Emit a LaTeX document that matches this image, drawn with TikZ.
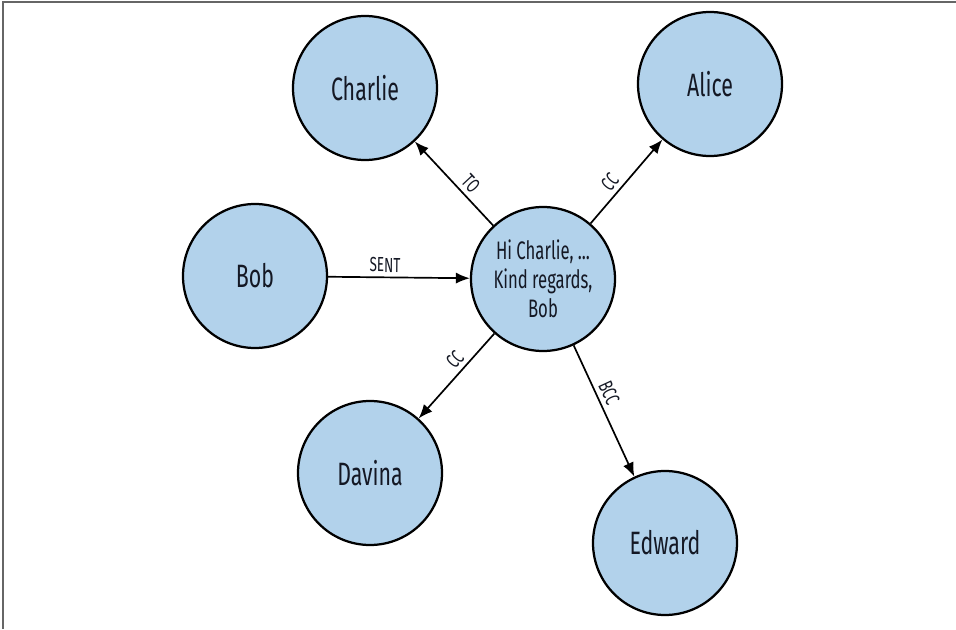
\documentclass[tikz,border=0pt]{standalone}
\usepackage{fontspec}
\setmainfont[FakeStretch=0.66]{Fira Sans}
\usetikzlibrary{arrows.meta}

\definecolor{nodeblue}{RGB}{178,210,235}
\definecolor{inkcol}{RGB}{20,24,36}

\tikzset{
	person/.style = {circle, draw = black, line width = 1.6pt, fill = nodeblue,
		minimum size = 3.6cm, inner sep = 0pt, text = inkcol,
		font = \fontsize{23}{27}\selectfont},
	mail/.style = {person, align = center, font = \fontsize{18}{20.5}\selectfont},
	rel/.style = {-{Latex[length = 10pt, width = 8pt]}, line width = 1.2pt},
	tag/.style = {sloped, above, pos = 0.4, inner sep = 3pt, text = inkcol,
		font = \fontsize{14.5}{16}\selectfont}
}

\begin{document}
\begin{tikzpicture}
	\useasboundingbox (0, 0) rectangle (23.9, 15.725);
	\draw[gray!80!black, line width = 1pt] (0.075, 0) -- (0.075, 15.675) -- (23.9, 15.675);
	
	\node[mail] (msg) at (13.575, 8.75) {Hi Charlie, ...\\Kind regards,\\Bob};
	\node[person] (charlie) at (9.125, 13.525) {Charlie};
	\node[person] (alice) at (17.75, 13.625) {Alice};
	\node[person] (bob) at (6.375, 8.825) {Bob};
	\node[person] (davina) at (9.25, 3.9) {Davina};
	\node[person] (edward) at (16.625, 2.15) {Edward};
	
	\draw[rel] (bob) -- (msg) node[tag]{SENT};
	\draw[rel] (msg) -- (charlie) node[tag]{TO};
	\draw[rel] (msg) -- (alice) node[tag]{CC};
	\draw[rel] (msg) -- (davina) node[tag]{CC};
	\draw[rel] (msg) -- (edward) node[tag]{BCC};
\end{tikzpicture}
\end{document}
